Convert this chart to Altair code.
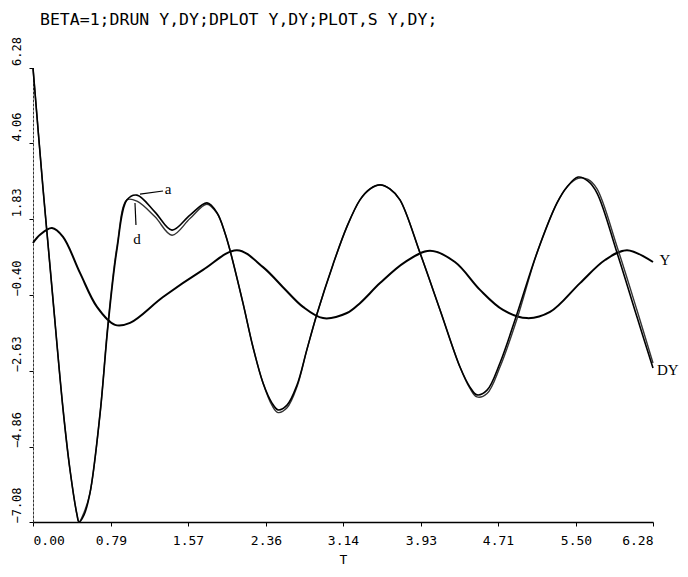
import altair as alt
import pandas as pd

TITLE = "BETA=1;DRUN Y,DY;DPLOT Y,DY;PLOT,S Y,DY;"

x_ticks = [0.00, 0.79, 1.57, 2.36, 3.14, 3.93, 4.71, 5.50, 6.28]
y_ticks = [-7.08, -4.86, -2.63, -0.40, 1.83, 4.06, 6.28]

# Y curve
y_t = [0.000, 0.071, 0.192, 0.304, 0.476, 0.648, 0.831, 0.983, 1.317, 1.722, 2.066,
       2.330, 2.532, 2.735, 2.937, 3.180, 3.312, 3.515, 3.768, 4.021, 4.274, 4.528,
       4.761, 5.004, 5.237, 5.541, 5.794, 6.017, 6.280]
y_v = [1.13, 1.37, 1.57, 1.31, 0.25, -0.75, -1.28, -1.22, -0.46, 0.34, 0.92,
       0.42, -0.17, -0.75, -1.08, -0.93, -0.64, -0.05, 0.57, 0.90, 0.57, -0.25,
       -0.84, -1.08, -0.90, -0.05, 0.63, 0.92, 0.57]

# DY curves (a and d)
dy_t = [0.000, 0.101, 0.152, 0.203, 0.304, 0.375, 0.446, 0.466, 0.517, 0.577,
        0.679, 0.760, 0.851, 0.952, 1.053, 1.236, 1.408, 1.590, 1.762, 1.864,
        1.945, 1.995, 2.127, 2.228, 2.330, 2.421, 2.482, 2.573, 2.674, 2.775,
        2.877, 3.039, 3.181, 3.312, 3.413, 3.515, 3.616, 3.717, 3.920, 4.123,
        4.325, 4.426, 4.497, 4.599, 4.730, 4.903, 5.105, 5.308, 5.409, 5.521,
        5.622, 5.713, 5.916, 6.118, 6.280]
dy_a = [6.28, 2.75, 1.10, -0.55, -3.75, -5.55, -6.87, -7.08, -6.87, -6.23,
        -3.90, -1.30, 0.95, 2.40, 2.54, 2.04, 1.51, 1.95, 2.31, 2.02,
        1.42, 0.92, -0.64, -1.93, -2.99, -3.58, -3.78, -3.64, -3.05, -2.00,
        -0.95, 0.50, 1.62, 2.40, 2.72, 2.84, 2.72, 2.40, 0.84, -0.84,
        -2.52, -3.11, -3.34, -3.20, -2.40, -0.95, 0.84, 2.31, 2.78, 3.07,
        2.95, 2.60, 0.84, -1.05, -2.55]
dy_d = [6.28, 2.75, 1.10, -0.55, -3.75, -5.55, -6.87, -7.08, -6.80, -6.23,
        -3.90, -1.22, 1.04, 2.40, 2.36, 1.90, 1.36, 1.85, 2.27, 2.00,
        1.42, 0.92, -0.64, -1.93, -2.99, -3.65, -3.86, -3.72, -3.10, -2.00,
        -0.95, 0.50, 1.62, 2.40, 2.72, 2.84, 2.72, 2.40, 0.84, -0.84,
        -2.52, -3.15, -3.40, -3.30, -2.52, -1.10, 0.84, 2.31, 2.78, 3.03,
        3.00, 2.72, 1.02, -0.85, -2.40]

# annotations
ann_text = ["Y", "DY", "a", "d"]
ann_t = [6.40, 6.43, 1.367, 1.053]
ann_v = [0.63, -2.61, 2.72, 1.25]
lead_t1 = [1.084, 1.033]
lead_v1 = [2.57, 2.31]
lead_t2 = [1.317, 1.043]
lead_v2 = [2.66, 1.66]

MONO = "DejaVu Sans Mono"
SERIF = "Liberation Serif"

df_y = pd.DataFrame({"T": y_t, "V": y_v})
df_a = pd.DataFrame({"T": dy_t, "V": dy_a})
df_d = pd.DataFrame({"T": dy_t, "V": dy_d})
df_ann = pd.DataFrame({"T": ann_t, "V": ann_v, "text": ann_text})
df_lead = pd.DataFrame({"T": lead_t1, "V": lead_v1, "T2": lead_t2, "V2": lead_v2})
df_title = pd.DataFrame({"text": [TITLE]})

xs = alt.Scale(domain=[0, 6.28], nice=False, zero=False)
ys = alt.Scale(domain=[-7.08, 6.28], nice=False, zero=False)

x_axis = alt.Axis(values=x_ticks, format=".2f", title="T", grid=False,
                  labelFont=MONO, labelFontSize=13, labelColor="black",
                  labelPadding=8, tickSize=4, tickColor="black",
                  domainColor="black", domainWidth=1.6,
                  titleFont=MONO, titleFontSize=13, titleFontWeight="normal",
                  titleColor="black", titlePadding=6)
y_axis = alt.Axis(values=y_ticks, format=".2f", title=None, grid=False,
                  labelFont=MONO, labelFontSize=12, labelColor="black",
                  labelAngle=270, labelAlign="center", labelBaseline="middle",
                  labelOffset=-17, labelPadding=13, tickSize=4, tickColor="black",
                  domainColor="#333", domainWidth=1.0, domainDash=[3, 1])

X = alt.X("T:Q", scale=xs, axis=x_axis)
Y = alt.Y("V:Q", scale=ys, axis=y_axis)

INTERP = "catmull-rom"

line_y = alt.Chart(df_y).mark_line(color="black", strokeWidth=2.0,
                                   interpolate=INTERP).encode(x=X, y=Y)
line_d = alt.Chart(df_d).mark_line(color="#333", strokeWidth=1.4,
                                   interpolate=INTERP).encode(x="T:Q", y="V:Q")
line_a = alt.Chart(df_a).mark_line(color="black", strokeWidth=1.6,
                                   interpolate=INTERP).encode(x="T:Q", y="V:Q")

ann = alt.Chart(df_ann).mark_text(font=SERIF, fontSize=15, color="black",
                                  align="center", baseline="middle").encode(
    x="T:Q", y="V:Q", text="text:N")
lead = alt.Chart(df_lead).mark_rule(color="black", strokeWidth=1.2).encode(
    x="T:Q", y="V:Q", x2="T2:Q", y2="V2:Q")

title = alt.Chart(df_title).mark_text(font=MONO, fontSize=16.5, color="black",
                                      align="left", baseline="middle").encode(
    x=alt.value(7), y=alt.value(-48), text="text:N")

chart = alt.layer(line_y, line_d, line_a, lead, ann, title).properties(
    width=620, height=454,
    autosize=alt.AutoSizeParams(type="none"),
    padding={"left": 25, "top": 60, "right": 27, "bottom": 47},
    background="white",
).configure_view(stroke=None)

chart.save("out.html", embed_options={"renderer": "svg", "actions": False})
